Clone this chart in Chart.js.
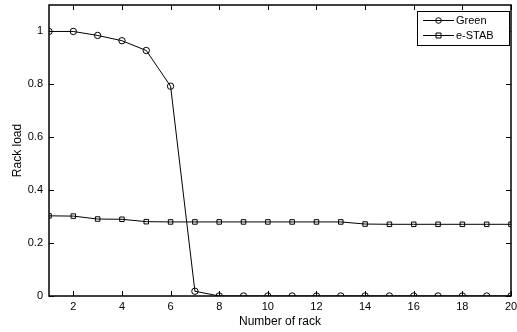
<!DOCTYPE html>
<html>
<head>
<meta charset="utf-8">
<script src="https://cdn.jsdelivr.net/npm/chart.js@4.4.3/dist/chart.umd.min.js"></script>
<style>
  html, body { margin: 0; padding: 0; background: #fff; }
  #wrap { width: 517px; height: 332px; position: relative; }
</style>
</head>
<body>
<div id="wrap"><canvas id="rack-chart"></canvas></div>
<script>
// rack data

const rackNumbers = [1, 2, 3, 4, 5, 6, 7, 8, 9, 10, 11, 12, 13, 14, 15, 16, 17, 18, 19, 20];
const greenLoad = [1.0, 1.0, 0.985, 0.965, 0.928, 0.793, 0.018, 0, 0, 0, 0, 0, 0, 0, 0, 0, 0, 0, 0, 0];
const estabLoad = [0.303, 0.302, 0.291, 0.29, 0.281, 0.28, 0.28, 0.28, 0.28, 0.28, 0.28, 0.28, 0.28, 0.272, 0.271, 0.271, 0.271, 0.271, 0.271, 0.271];
const seriesNames = ['Green', 'e-STAB'];
const xTicks = [2, 4, 6, 8, 10, 12, 14, 16, 18, 20];
const yTicks = [0, 0.2, 0.4, 0.6, 0.8, 1];

const FONT = 'Liberation Sans, Arial, Helvetica, sans-serif';
const clear = 'rgba(0,0,0,0)';

// matlab style: box round the plot, ticks pointing inward on every side
const boxTicks = {
    id: 'boxTicks',
    afterDatasetsDraw(chart) {
        const { ctx, chartArea: a, scales } = chart;
        const len = 5;
        ctx.save();
        ctx.strokeStyle = '#000';
        ctx.lineWidth = 1;
        ctx.beginPath();
        for (const v of xTicks) {
            const x = Math.round(scales.x.getPixelForValue(v)) + 0.5;
            ctx.moveTo(x, a.bottom); ctx.lineTo(x, a.bottom - len);
            ctx.moveTo(x, a.top); ctx.lineTo(x, a.top + len);
        }
        for (const v of yTicks) {
            const y = Math.round(scales.y.getPixelForValue(v)) + 0.5;
            ctx.moveTo(a.left, y); ctx.lineTo(a.left + len, y);
            ctx.moveTo(a.right, y); ctx.lineTo(a.right - len, y);
        }
        ctx.stroke();
        ctx.lineWidth = 1.5;
        ctx.strokeRect(a.left, a.top, a.right - a.left, a.bottom - a.top);
        ctx.restore();
    }
};

// legend box in the top right corner, line + marker like the plot
const lineLegend = {
    id: 'lineLegend',
    afterDraw(chart) {
        const { ctx, chartArea: a } = chart;
        const right = a.right - 2, top = a.top + 6;
        const w = 92, h = 34;
        const left = right - w;
        ctx.save();
        ctx.fillStyle = '#fff';
        ctx.fillRect(left, top, w, h);
        ctx.strokeStyle = '#000';
        ctx.lineWidth = 1;
        ctx.strokeRect(left + 0.5, top + 0.5, w, h);
        ctx.font = '11px ' + FONT;
        ctx.textBaseline = 'middle';
        chart.data.datasets.forEach((ds, i) => {
            const y = top + 9 + i * 15;
            ctx.beginPath();
            ctx.moveTo(left + 6, y + 0.5); ctx.lineTo(left + 37, y + 0.5);
            ctx.stroke();
            const cx = left + 21.5;
            ctx.beginPath();
            if (ds.pointStyle === 'circle') {
                ctx.arc(cx, y + 0.5, 2.8, 0, Math.PI * 2);
            } else {
                ctx.rect(cx - 2.5, y - 2, 5, 5);
            }
            ctx.stroke();
            ctx.fillStyle = '#000';
            ctx.fillText(ds.label, left + 39, y + 1);
        });
        ctx.restore();
    }
};

new Chart(document.getElementById('rack-chart'), {
    type: 'line',
    data: {
        datasets: [
            {
                label: seriesNames[0],
                data: rackNumbers.map((r, i) => ({ x: r, y: greenLoad[i] })),
                borderColor: '#000',
                borderWidth: 1,
                pointStyle: 'circle',
                pointRadius: 3.2,
                pointBorderWidth: 1,
                pointBorderColor: '#000',
                pointBackgroundColor: clear,
                tension: 0,
            },
            {
                label: seriesNames[1],
                data: rackNumbers.map((r, i) => ({ x: r, y: estabLoad[i] })),
                borderColor: '#000',
                borderWidth: 1,
                pointStyle: 'rect',
                pointRadius: 3.2,
                pointBorderWidth: 1,
                pointBorderColor: '#000',
                pointBackgroundColor: clear,
                tension: 0,
            },
        ],
    },
    options: {
        responsive: true,
        maintainAspectRatio: false,
        animation: false,
        layout: { padding: { top: 2, right: 6, left: 0, bottom: 0 } },
        plugins: {
            legend: { display: false },
            tooltip: { enabled: false },
        },
        scales: {
            x: {
                type: 'linear',
                min: 1,
                max: 20,
                afterBuildTicks: (scale) => { scale.ticks = xTicks.map(v => ({ value: v })); },
                afterFit: (scale) => {
                    scale.height = 36;
                    scale.paddingLeft = 0;
                    scale.paddingRight = 0;
                },
                grid: { display: false, drawTicks: false },
                border: { display: false },
                ticks: {
                    color: '#000',
                    font: { family: FONT, size: 11 },
                    padding: 4,
                    maxRotation: 0,
                    autoSkip: false,
                },
                title: {
                    display: true,
                    text: 'Number of rack',
                    color: '#000',
                    font: { family: FONT, size: 12 },
                    padding: { top: 0, bottom: 3 },
                },
            },
            y: {
                min: 0,
                max: 1.1,
                afterBuildTicks: (scale) => { scale.ticks = yTicks.map(v => ({ value: v })); },
                afterFit: (scale) => {
                    scale.width = 49;
                    scale.paddingTop = 0;
                    scale.paddingBottom = 0;
                },
                grid: { display: false, drawTicks: false },
                border: { display: false },
                ticks: {
                    color: '#000',
                    font: { family: FONT, size: 11 },
                    padding: 6,
                    callback: (v) => String(v),
                },
                title: {
                    display: true,
                    text: 'Rack load',
                    color: '#000',
                    font: { family: FONT, size: 12 },
                    padding: { top: 10, bottom: 0 },
                },
            },
        },
    },
    plugins: [boxTicks, lineLegend],
});
</script>
</body>
</html>
